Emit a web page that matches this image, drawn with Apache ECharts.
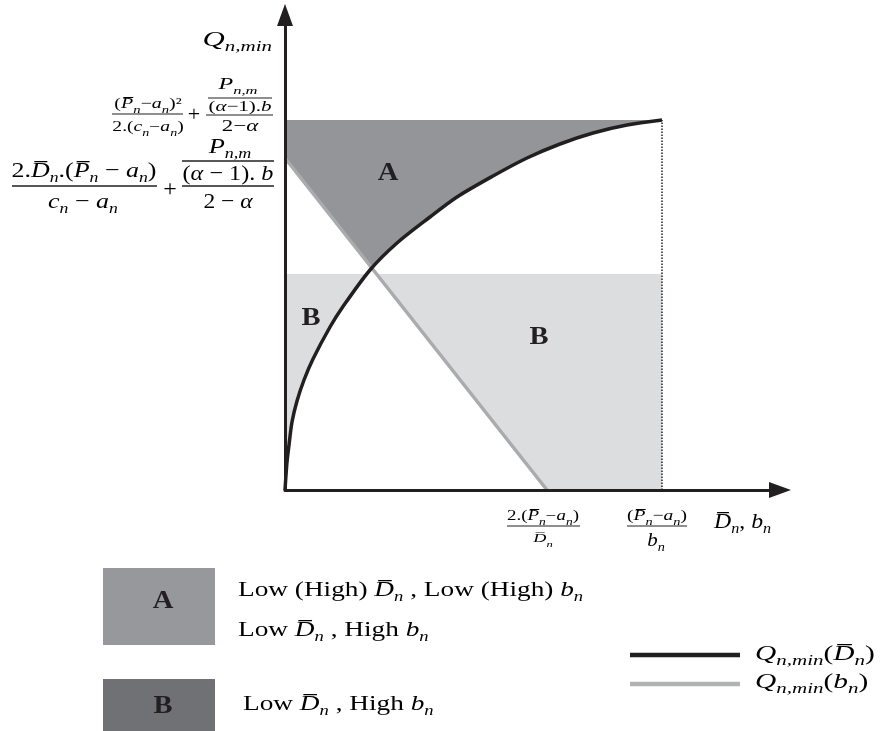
<!DOCTYPE html>
<html>
<head>
<meta charset="utf-8">
<script src="https://cdn.jsdelivr.net/npm/echarts@6/dist/echarts.min.js"></script>
<style>html,body{margin:0;background:#fff}#main{width:880px;height:731px}</style>
</head>
<body>
<div id="main"></div>
<script>
// values, in reference units (1 unit ~ 1 px from the origin)
var curveD = [[0, 0], [1, 15], [2, 28], [4, 45], [7, 68], [12, 89], [19, 110], [28, 131], [45, 163], [57, 182],
	[85, 220], [112, 247], [145, 273], [172, 293], [208, 314], [242, 332], [275, 346], [308, 357], [342, 365], [377, 370]];
var lineB = [[0, 332], [262, 0]];
var qTop = 370;          // first y label level
var bLevel = 216;        // top of the B band
var xEnd = 377;          // (Pn-an)/bn
var cross = [86, 222];   // curve meets the gray line
var bCurve = [82, 216];  // curve meets the B band
var bLine = [90, 216];   // gray line meets the B band

var INK = '#231f20';
var SERIF = '"Liberation Serif","DejaVu Serif",serif';
var colA = '#939598', colB = '#dcdddf';

// region polygons built from the arrays above
var upper = curveD.filter(function(p) { return p[0] > cross[0]; });
var lower = curveD.filter(function(p) { return p[0] < bCurve[0]; });
var regions = [
	{ color: colA, pts: [[0, qTop], [xEnd, qTop]].concat(upper.slice().reverse(), [cross, lineB[0]]) },
	{ color: colB, pts: [[0, bLevel], bCurve].concat(lower.slice().reverse()) },
	{ color: colB, pts: [bLine, [xEnd, bLevel], [xEnd, 0], lineB[1]] }
];

function rich(size) {
	var s = Math.round(size * 0.7);
	return {
		i: { fontFamily: SERIF, fontStyle: 'italic', fontSize: size, lineHeight: size + 8, color: INK },
		r: { fontFamily: SERIF, fontSize: size, lineHeight: size + 8, color: INK },
		s: { fontFamily: SERIF, fontStyle: 'italic', fontSize: s, lineHeight: s, verticalAlign: 'bottom', color: INK }
	};
}

// the reference is set in a wide math font, so text gets stretched sideways
function txt(x, y, str, size, sx, align) {
	return { type: 'text', x: x, y: y, z: 20, scaleX: sx || 1,
		style: { text: str, rich: rich(size), align: align || 'center', verticalAlign: 'middle' } };
}

function bar(x1, x2, y, w) {
	return { type: 'line', z: 20, shape: { x1: x1, y1: y, x2: x2, y2: y }, style: { stroke: INK, lineWidth: w || 1.2 } };
}

function bold(x, y, s) {
	return { type: 'text', x: x, y: y, z: 20, scaleX: 1.1,
		style: { text: s, font: 'bold 26px ' + SERIF, fill: INK, align: 'center', verticalAlign: 'middle' } };
}

var PBAR = 'P\u0305', DBAR = 'D\u0305';

var graphics = [
	txt(272, 40, '{i|Q}{s|n,min}', 22, 1.4, 'right'),
	// small formula
	txt(148, 104, '{r|(}{i|' + PBAR + '}{s|n}{r|−}{i|a}{s|n}{r|)²}', 15, 1.33),
	bar(112, 183, 114),
	txt(148, 127, '{r|2.(}{i|c}{s|n}{r|−}{i|a}{s|n}{r|)}', 14, 1.4),
	txt(194, 115, '{r|+}', 22),
	txt(238, 85, '{i|P}{s|n,m}', 16, 1.5),
	bar(208, 272, 98),
	txt(240, 107, '{r|(}{i|α}{r|−1).}{i|b}', 15, 1.4),
	bar(206, 273, 115),
	txt(240, 127, '{r|2−}{i|α}', 17, 1.35),
	// big formula
	txt(84, 171, '{r|2.}{i|' + DBAR + '}{s|n}{r|.(}{i|' + PBAR + '}{s|n}{r| − }{i|a}{s|n}{r|)}', 22, 1.18),
	bar(12, 157, 186, 1.4),
	txt(83, 202, '{i|c}{s|n}{r| − }{i|a}{s|n}', 22, 1.18),
	txt(170, 190, '{r|+}', 24),
	txt(230, 147, '{i|P}{s|n,m}', 22, 1.2),
	bar(182, 274, 161, 1.4),
	txt(228, 174, '{r|(}{i|α}{r| − 1). }{i|b}', 22, 1.1),
	bar(182, 274, 186, 1.4),
	txt(228, 202, '{r|2 − }{i|α}', 22, 1.07),
	// x labels
	txt(543, 516, '{r|2.(}{i|' + PBAR + '}{s|n}{r|−}{i|a}{s|n}{r|)}', 14, 1.35),
	bar(507, 580, 526),
	txt(543, 539, '{i|' + DBAR + '}{s|n}', 13, 1.4),
	txt(657, 516, '{r|(}{i|' + PBAR + '}{s|n}{r|−}{i|a}{s|n}{r|)}', 15, 1.3),
	bar(627, 687, 526),
	txt(656, 541, '{i|b}{s|n}', 19, 1.1),
	txt(714, 522, '{i|' + DBAR + '}{s|n}{r|, }{i|b}{s|n}', 22, 1.08, 'left'),
	// region letters
	bold(388, 173, 'A'), bold(311, 318, 'B'), bold(539, 337, 'B'),
	// legend boxes
	{ type: 'rect', z: 20, shape: { x: 103, y: 568, width: 112, height: 77 }, style: { fill: '#97989b' } },
	bold(163, 601, 'A'),
	{ type: 'rect', z: 20, shape: { x: 103, y: 679, width: 112, height: 60 }, style: { fill: '#707174' } },
	bold(163, 706, 'B'),
	txt(238, 590, '{r|Low (High) }{i|' + DBAR + '}{s|n}{r| , Low (High) }{i|b}{s|n}', 22, 1.24, 'left'),
	txt(238, 630, '{r|Low }{i|' + DBAR + '}{s|n}{r| , High }{i|b}{s|n}', 22, 1.24, 'left'),
	txt(243, 704, '{r|Low }{i|' + DBAR + '}{s|n}{r| , High }{i|b}{s|n}', 22, 1.24, 'left'),
	// line legend
	bar(630, 740, 655, 4.5),
	{ type: 'line', z: 20, shape: { x1: 630, y1: 684, x2: 740, y2: 684 }, style: { stroke: '#b1b2b4', lineWidth: 4.5 } },
	txt(755, 654, '{i|Q}{s|n,min}{r|(}{i|' + DBAR + '}{s|n}{r|)}', 21, 1.4, 'left'),
	txt(755, 682, '{i|Q}{s|n,min}{r|(}{i|b}{s|n}{r|)}', 21, 1.4, 'left')
];

var axisLine = {
	show: true, onZero: false,
	symbol: ['none', 'triangle'], symbolSize: [16, 22],
	lineStyle: { color: INK, width: 3 }
};

var option = {
	animation: false,
	grid: { left: 285, right: 100, top: 15, bottom: 241 },
	xAxis: { type: 'value', min: 0, max: 495, z: 10, axisLine: axisLine,
		axisTick: { show: false }, axisLabel: { show: false }, splitLine: { show: false } },
	yAxis: { type: 'value', min: 0, max: 475, z: 10, axisLine: axisLine,
		axisTick: { show: false }, axisLabel: { show: false }, splitLine: { show: false } },
	graphic: graphics,
	series: [
		{
			type: 'custom', z: 1, clip: false,
			data: regions.map(function(r, i) { return [i]; }),
			renderItem: function(params, api) {
				var r = regions[params.dataIndex];
				return { type: 'polygon',
					shape: { points: r.pts.map(function(p) { return api.coord(p); }) },
					style: { fill: r.color } };
			}
		},
		{ type: 'line', z: 3, data: lineB, showSymbol: false,
			lineStyle: { color: '#a9abae', width: 3.5 } },
		{ type: 'line', z: 4, data: curveD, showSymbol: false, smooth: 0.3,
			lineStyle: { color: INK, width: 3.5 } },
		{ type: 'line', z: 4, data: [[xEnd, 0], [xEnd, qTop]], showSymbol: false,
			lineStyle: { color: INK, width: 1.5, type: 'dotted' } }
	]
};

var myChart = echarts.init(document.getElementById('main'));
myChart.setOption(option);
</script>
</body>
</html>
